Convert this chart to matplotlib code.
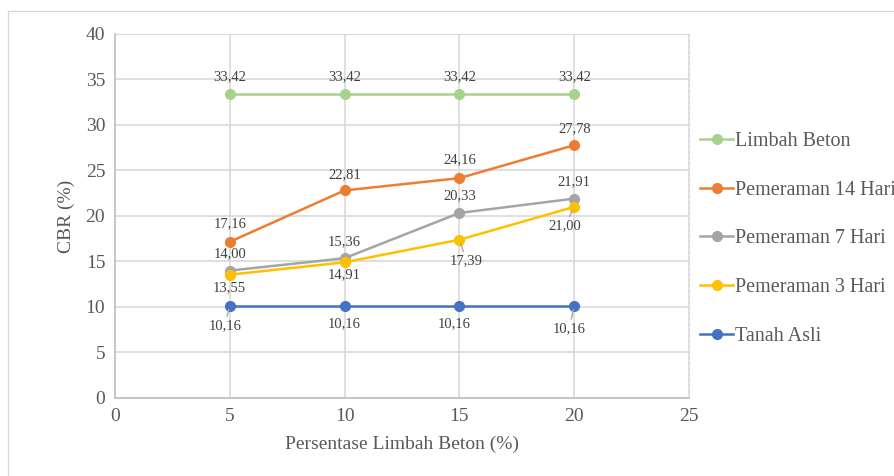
import matplotlib.pyplot as plt
from matplotlib.patches import Rectangle

plt.rcParams['font.family'] = ['Liberation Serif', 'DejaVu Serif']

# Data CBR terhadap persentase limbah beton
persen = [5, 10, 15, 20]
limbah_beton = [33.42, 33.42, 33.42, 33.42]
peram_14 = [17.16, 22.81, 24.16, 27.78]
peram_7 = [14.00, 15.36, 20.33, 21.91]
peram_3 = [13.55, 14.91, 17.39, 21.00]
tanah_asli = [10.16, 10.16, 10.16, 10.16]

series = [
    ("Limbah Beton", limbah_beton, "#a9d18e"),
    ("Pemeraman 14 Hari", peram_14, "#ed7d31"),
    ("Pemeraman 7 Hari", peram_7, "#a5a5a5"),
    ("Pemeraman 3 Hari", peram_3, "#ffc000"),
    ("Tanah Asli", tanah_asli, "#4472c4"),
]

# posisi label (offset piksel ke bawah), leader = garis penunjuk
label_pos = {
    "Limbah Beton": [(0, -17, False)] * 4,
    "Pemeraman 14 Hari": [(0, -18, False), (0, -16, False), (0, -18, False), (0, -17, False)],
    "Pemeraman 7 Hari": [(0, -17, False), (0, -17, False), (0, -17, False), (0, -17, False)],
    "Pemeraman 3 Hari": [(0, 13, False), (0, 12, False), (7, 21, True), (-9, 19, True)],
    "Tanah Asli": [(-5, 20, True), (0, 18, False), (-5, 18, False), (-5, 23, True)],
}

fig = plt.figure(figsize=(8.94, 4.76), dpi=100)
ax = fig.add_axes([0.1286, 0.1639, 0.6421, 0.7647])

# bingkai luar chart
fig.patches.append(Rectangle((8 / 894, -0.1), 1.2, 1 - 11 / 476 + 0.1,
                             transform=fig.transFigure, fill=False,
                             edgecolor="#d9d9d9", linewidth=1))

for name, vals, color in series:
    ax.plot(persen, vals, color=color, linewidth=1.8, marker="o",
            markersize=7, label=name, zorder=3)
    for x, y, (dx, dy, leader) in zip(persen, vals, label_pos[name]):
        arrow = None
        if leader:
            arrow = dict(arrowstyle="-", color="#a6a6a6", lw=1,
                         shrinkA=0, shrinkB=3)
        ax.annotate(f"{y:.2f}".replace(".", ","), (x, y),
                    xytext=(dx, -dy), textcoords="offset pixels",
                    ha="center", va="center", fontsize=10.5,
                    color="#404040", arrowprops=arrow, zorder=4)

ax.set_xlim(0, 25)
ax.set_ylim(0, 40)
ax.set_xticks(range(0, 30, 5))
ax.set_yticks(range(0, 45, 5))
ax.grid(True, color="#d9d9d9", linewidth=1.2, zorder=0)
ax.set_axisbelow(True)
ax.tick_params(length=0, labelsize=14, labelcolor="#595959", pad=7)

for side in ["top", "right"]:
    ax.spines[side].set_color("#d9d9d9")
    ax.spines[side].set_linestyle((0, (3, 2)))
    ax.spines[side].set_linewidth(0.8)
for side in ["left", "bottom"]:
    ax.spines[side].set_color("#bfbfbf")
    ax.spines[side].set_linewidth(1.2)

ax.set_xlabel("Persentase Limbah Beton (%)", fontsize=14, color="#595959", labelpad=8)
ax.set_ylabel("CBR (%)", fontsize=14, color="#595959", labelpad=8)

ax.legend(loc="upper left", bbox_to_anchor=(1.005, 0.754), frameon=False,
          fontsize=14.5, labelcolor="#595959", handlelength=1.65,
          handletextpad=0.1, labelspacing=1.48, borderaxespad=0)

plt.savefig("out.png", dpi=100)
plt.close()
